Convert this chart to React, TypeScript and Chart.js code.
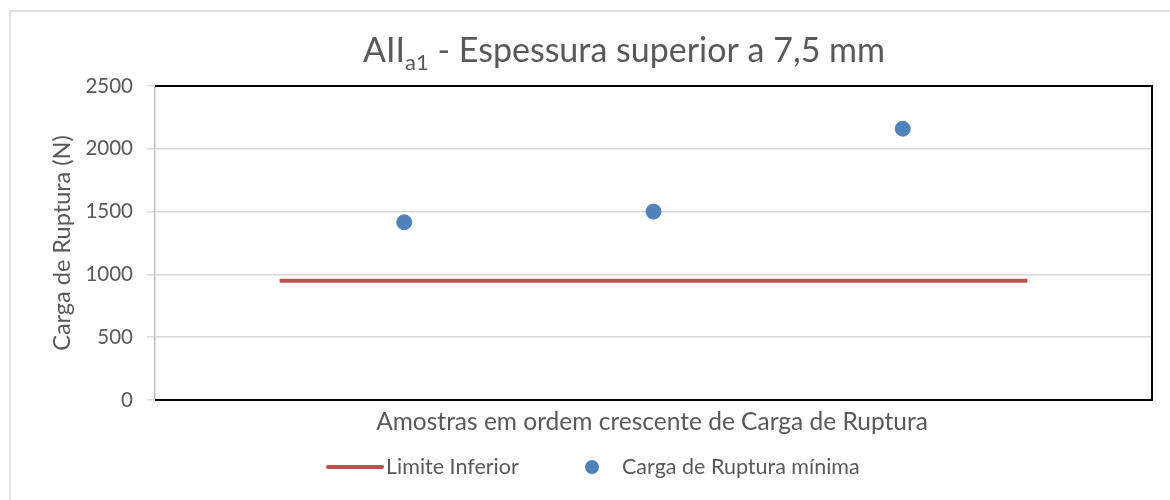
import React, { useEffect, useRef } from "react";
import { Chart, registerables } from "chart.js";

Chart.register(...registerables);

const titleMain = "AII";
const titleSub = "a1";
const titleRest = " - Espessura superior a 7,5 mm";
const yAxisTitle = "Carga de Ruptura (N)";
const xAxisTitle = "Amostras em ordem crescente de Carga de Ruptura";
const seriesLimiteName = "Limite Inferior";
const seriesCargaName = "Carga de Ruptura mínima";

const amostras = [1, 2, 3];
const cargaRuptura = [1415, 1500, 2160];
const limiteX = [0.5, 3.5];
const limiteInferior = [950, 950];
const yTicks = [0, 500, 1000, 1500, 2000, 2500];

const TEXT = "#595959";
const RED = "#c0504d";
const BLUE = "#4f81bd";
const FONT = "Lato";

const decorPlugin = {
  id: "decor",
  beforeDraw(chart: any) {
    const ctx = chart.ctx;
    ctx.save();
    ctx.fillStyle = "#ffffff";
    ctx.fillRect(0, 0, chart.width, chart.height);
    ctx.strokeStyle = "#d9d9d9";
    ctx.lineWidth = 1.5;
    ctx.beginPath();
    ctx.moveTo(10, chart.height);
    ctx.lineTo(10, 11);
    ctx.lineTo(chart.width, 11);
    ctx.stroke();
    ctx.restore();
  },
  afterDraw(chart: any) {
    const ctx = chart.ctx;
    const a = chart.chartArea;
    ctx.save();
    // plot border (top, right, bottom)
    ctx.strokeStyle = "#000000";
    ctx.lineWidth = 2;
    ctx.beginPath();
    ctx.moveTo(a.left, a.top);
    ctx.lineTo(a.right, a.top);
    ctx.lineTo(a.right, a.bottom);
    ctx.lineTo(a.left, a.bottom);
    ctx.stroke();

    ctx.fillStyle = TEXT;
    ctx.textBaseline = "alphabetic";
    // title
    const bigFont = `34px ${FONT}`;
    const subFont = `22px ${FONT}`;
    ctx.font = bigFont;
    const w1 = ctx.measureText(titleMain).width;
    const w3 = ctx.measureText(titleRest).width;
    ctx.font = subFont;
    const w2 = ctx.measureText(titleSub).width;
    const total = w1 + w2 + w3;
    let x = 624 - total / 2;
    const base = 62;
    ctx.textAlign = "left";
    ctx.font = bigFont;
    ctx.fillText(titleMain, x, base);
    x += w1;
    ctx.font = subFont;
    ctx.fillText(titleSub, x, base + 8);
    x += w2;
    ctx.font = bigFont;
    ctx.fillText(titleRest, x, base);

    // x axis title
    ctx.font = `24.5px ${FONT}`;
    ctx.textAlign = "center";
    ctx.textBaseline = "middle";
    ctx.fillText(xAxisTitle, 652, 422);

    // y axis title
    ctx.save();
    ctx.font = `23.5px ${FONT}`;
    ctx.translate(62, (a.top + a.bottom) / 2);
    ctx.rotate(-Math.PI / 2);
    ctx.fillText(yAxisTitle, 0, 0);
    ctx.restore();

    // legend
    const ly = 467;
    ctx.font = `21.5px ${FONT}`;
    ctx.textAlign = "left";
    ctx.strokeStyle = RED;
    ctx.lineWidth = 4;
    ctx.lineCap = "round";
    ctx.beginPath();
    ctx.moveTo(328, ly);
    ctx.lineTo(382, ly);
    ctx.stroke();
    ctx.fillText(seriesLimiteName, 386, ly);
    ctx.fillStyle = BLUE;
    ctx.beginPath();
    ctx.arc(592, ly, 7, 0, Math.PI * 2);
    ctx.fill();
    ctx.fillStyle = TEXT;
    ctx.fillText(seriesCargaName, 622, ly);
    ctx.restore();
  },
};

export default function App() {
  const ref = useRef<HTMLCanvasElement>(null);
  useEffect(() => {
    if (!ref.current) return;
    const chart = new Chart(ref.current, {
      type: "scatter",
      data: {
        datasets: [
          {
            label: seriesLimiteName,
            type: "line",
            data: limiteX.map((x, i) => ({ x, y: limiteInferior[i] })),
            borderColor: RED,
            backgroundColor: RED,
            borderWidth: 4,
            pointRadius: 0,
            showLine: true,
          },
          {
            label: seriesCargaName,
            data: amostras.map((x, i) => ({ x, y: cargaRuptura[i] })),
            backgroundColor: BLUE,
            borderColor: BLUE,
            pointRadius: 7.5,
            pointHoverRadius: 7.5,
          },
        ],
      },
      options: {
        responsive: false,
        animation: false,
        layout: { padding: { left: 0, top: 86, right: 18, bottom: 0 } },
        plugins: {
          legend: { display: false },
          title: { display: false },
          tooltip: { enabled: false },
        },
        scales: {
          x: {
            type: "linear",
            min: 0,
            max: 4,
            ticks: { display: false },
            grid: { display: false },
            border: { display: false },
            afterFit: (s: any) => {
              s.height = 100;
            },
          },
          y: {
            min: 0,
            max: 2500,
            afterBuildTicks: (s: any) => {
              s.ticks = yTicks.map((v) => ({ value: v }));
            },
            ticks: {
              color: TEXT,
              font: { family: FONT, size: 20.5 },
              padding: 14,
              callback: (v: any) => String(v),
            },
            grid: { color: "#d9d9d9", lineWidth: 1.5, tickLength: 8 },
            border: { color: "#bfbfbf", width: 1.5 },
            afterFit: (s: any) => {
              s.width = 155;
            },
          },
        },
      },
      plugins: [decorPlugin],
    } as any);
    return () => chart.destroy();
  }, []);
  return (
    <div style={{ position: "absolute", left: 0, top: 0, width: 1170, height: 500, background: "#fff" }}>
      <canvas ref={ref} width={1170} height={500} style={{ width: 1170, height: 500, display: "block" }} />
    </div>
  );
}
